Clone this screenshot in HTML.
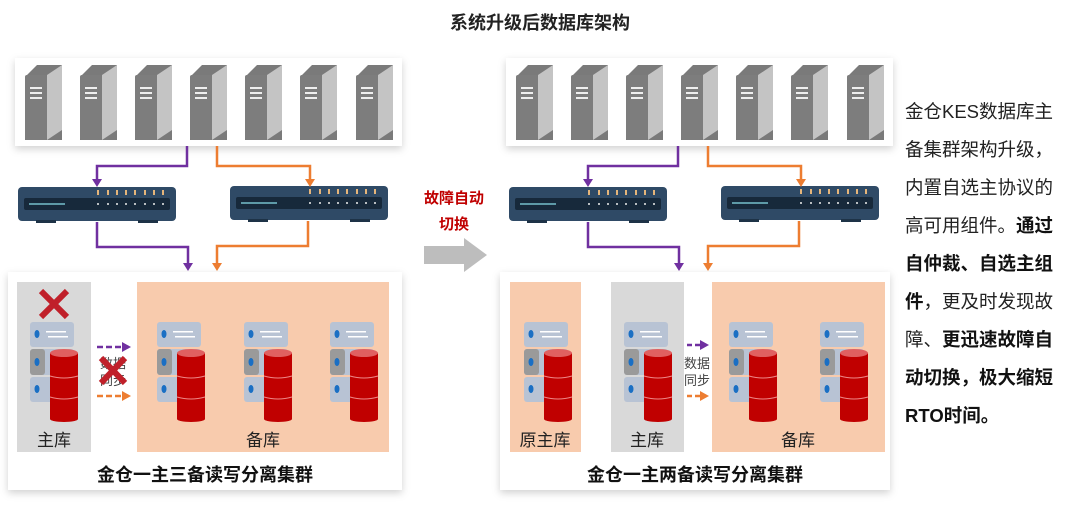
<!DOCTYPE html>
<html><head><meta charset="utf-8"><style>
html,body{margin:0;padding:0;background:#fff;}
svg text{font-family:"Liberation Sans","Noto Sans CJK SC",sans-serif;}
</style></head><body>
<svg width="1080" height="526" viewBox="0 0 1080 526" xmlns="http://www.w3.org/2000/svg">
<defs>
<filter id="sh" x="-10%" y="-10%" width="120%" height="130%"><feDropShadow dx="0" dy="3" stdDeviation="4" flood-color="#000" flood-opacity="0.18"/></filter>
<g id="srv">
<path d="M0 12 L12 0 L37 0 L37 75 L0 75 Z" fill="#7a7a7a"/>
<path d="M22 10 L37 0 L37 65 L22 75 Z" fill="#c4c4c4"/>
<rect x="0" y="10" width="22" height="65" rx="2" fill="#7d7d7d"/>
<rect x="5" y="22" width="12" height="2" fill="#eee"/><rect x="5" y="27" width="12" height="2" fill="#eee"/><rect x="5" y="32" width="12" height="2" fill="#eee"/>
</g>
<g id="sw">
<rect x="0" y="0" width="158" height="34" rx="4" fill="#2f4a66"/>
<rect x="6" y="11" width="146" height="12" rx="2" fill="#17293b"/>
<rect x="11" y="16" width="36" height="2" fill="#5e9aa8"/>
<g fill="#eee"><circle cx="80" cy="17" r="1"/><circle cx="90" cy="17" r="1"/><circle cx="99" cy="17" r="1"/><circle cx="108" cy="17" r="1"/><circle cx="117" cy="17" r="1"/><circle cx="127" cy="17" r="1"/><circle cx="136" cy="17" r="1"/><circle cx="145" cy="17" r="1"/></g>
<g fill="#e6b57a"><rect x="79" y="3" width="2" height="5"/><rect x="89" y="3" width="2" height="5"/><rect x="98" y="3" width="2" height="5"/><rect x="107" y="3" width="2" height="5"/><rect x="116" y="3" width="2" height="5"/><rect x="126" y="3" width="2" height="5"/><rect x="135" y="3" width="2" height="5"/><rect x="144" y="3" width="2" height="5"/></g>
<rect x="18" y="33" width="20" height="3" fill="#1e3347"/><rect x="120" y="33" width="20" height="3" fill="#1e3347"/>
</g>
<g id="db">
<rect x="0" y="0" width="44" height="25" rx="3" fill="#b8c3d4"/>
<rect x="0" y="27" width="44" height="26" rx="3" fill="#b8c3d4"/>
<rect x="0" y="27" width="15" height="26" rx="3" fill="#9a9a9a"/>
<rect x="0" y="55" width="44" height="25" rx="3" fill="#b8c3d4"/>
<ellipse cx="7" cy="12" rx="2.5" ry="4" fill="#1a6fc4"/><ellipse cx="7" cy="40" rx="2.5" ry="4" fill="#1a6fc4"/><ellipse cx="7" cy="67" rx="2.5" ry="4" fill="#1a6fc4"/>
<rect x="16" y="9" width="20" height="1.5" fill="#fff"/><rect x="18" y="14" width="20" height="1.5" fill="#fff"/>
<rect x="20" y="31" width="28" height="66" fill="#c00000"/>
<ellipse cx="34" cy="31" rx="14" ry="4" fill="#e06060"/>
<ellipse cx="34" cy="97" rx="14" ry="3" fill="#c00000"/>
<path d="M20 54 Q34 58 48 54" stroke="#e88" stroke-width="1" fill="none"/>
<path d="M20 75 Q34 79 48 75" stroke="#e88" stroke-width="1" fill="none"/>
</g>
<g id="top">
<rect x="15" y="58" width="387" height="88" fill="#fff" filter="url(#sh)"/>
<use href="#srv" x="25" y="65"/><use href="#srv" x="80" y="65"/><use href="#srv" x="135" y="65"/><use href="#srv" x="190" y="65"/><use href="#srv" x="245" y="65"/><use href="#srv" x="300" y="65"/><use href="#srv" x="356" y="65"/>
<use href="#sw" x="18" y="187"/><use href="#sw" x="230" y="186"/>
<g fill="none" stroke-width="2.5">
<path d="M187 146 V166 H97 V180" stroke="#7030a0"/>
<path d="M217 146 V166 H310 V180" stroke="#ed7d31"/>
<path d="M97 222 V247 H188 V264" stroke="#7030a0"/>
<path d="M308 221 V246 H217 V264" stroke="#ed7d31"/>
</g>
<path d="M92 179 L102 179 L97 187 Z" fill="#7030a0"/>
<path d="M305 179 L315 179 L310 187 Z" fill="#ed7d31"/>
<path d="M183 263 L193 263 L188 271 Z" fill="#7030a0"/>
<path d="M212 263 L222 263 L217 271 Z" fill="#ed7d31"/>
</g>
</defs>

<text x="540" y="29" text-anchor="middle" font-size="18" font-weight="bold" fill="#222">系统升级后数据库架构</text>

<use href="#top"/>
<use href="#top" x="491"/>

<!-- left bottom -->
<rect x="8" y="272" width="394" height="218" fill="#fff" filter="url(#sh)"/>
<rect x="17" y="282" width="74" height="170" fill="#d9d9d9"/>
<rect x="137" y="282" width="252" height="170" fill="#f8cbad"/>
<path d="M41 291 L67 317 M67 291 L41 317" stroke="#c0202a" stroke-width="6"/>
<use href="#db" x="30" y="322"/>
<use href="#db" x="157" y="322"/>
<use href="#db" x="244" y="322"/>
<use href="#db" x="330" y="322"/>
<text x="54" y="446" text-anchor="middle" font-size="17" fill="#222">主库</text>
<text x="263" y="446" text-anchor="middle" font-size="17" fill="#222">备库</text>
<path d="M97 347 H122" stroke="#7030a0" stroke-width="2.5" stroke-dasharray="6,3"/><path d="M122 342 L131 347 L122 352 Z" fill="#7030a0"/>
<path d="M97 396 H122" stroke="#ed7d31" stroke-width="2.5" stroke-dasharray="6,3"/><path d="M122 391 L131 396 L122 401 Z" fill="#ed7d31"/>
<text x="113" y="368" text-anchor="middle" font-size="13" fill="#444">数据</text>
<text x="113" y="385" text-anchor="middle" font-size="13" fill="#444">同步</text>
<path d="M101 358 L125 383 M125 358 L101 383" stroke="#c0202a" stroke-width="6"/>
<text x="205" y="481" text-anchor="middle" font-size="18" font-weight="bold" fill="#111">金仓一主三备读写分离集群</text>

<!-- middle -->
<text x="454" y="203" text-anchor="middle" font-size="15" font-weight="bold" fill="#c00000">故障自动</text>
<text x="454" y="229" text-anchor="middle" font-size="15" font-weight="bold" fill="#c00000">切换</text>
<rect x="424" y="246" width="40" height="18" fill="#bdbdbd"/>
<path d="M464 238 L487 255 L464 272 Z" fill="#bdbdbd"/>

<!-- right bottom -->
<rect x="500" y="272" width="390" height="218" fill="#fff" filter="url(#sh)"/>
<rect x="510" y="282" width="71" height="170" fill="#f8cbad"/>
<rect x="611" y="282" width="73" height="170" fill="#d9d9d9"/>
<rect x="712" y="282" width="173" height="170" fill="#f8cbad"/>
<use href="#db" x="524" y="322"/>
<use href="#db" x="624" y="322"/>
<use href="#db" x="729" y="322"/>
<use href="#db" x="820" y="322"/>
<text x="545" y="446" text-anchor="middle" font-size="17" fill="#222">原主库</text>
<text x="647" y="446" text-anchor="middle" font-size="17" fill="#222">主库</text>
<text x="798" y="446" text-anchor="middle" font-size="17" fill="#222">备库</text>
<path d="M687 345 H700" stroke="#7030a0" stroke-width="2.5" stroke-dasharray="5,3"/><path d="M700 340 L709 345 L700 350 Z" fill="#7030a0"/>
<path d="M687 396 H700" stroke="#ed7d31" stroke-width="2.5" stroke-dasharray="5,3"/><path d="M700 391 L709 396 L700 401 Z" fill="#ed7d31"/>
<text x="697" y="368" text-anchor="middle" font-size="13" fill="#444">数据</text>
<text x="697" y="385" text-anchor="middle" font-size="13" fill="#444">同步</text>
<text x="695" y="481" text-anchor="middle" font-size="18" font-weight="bold" fill="#111">金仓一主两备读写分离集群</text>

<!-- right text -->
<g font-size="18.5" fill="#222">
<text x="905" y="118">金仓KES数据库主</text>
<text x="905" y="156">备集群架构升级，</text>
<text x="905" y="194">内置自选主协议的</text>
<text x="905" y="232">高可用组件。<tspan font-weight="bold" fill="#111">通过</tspan></text>
<text x="905" y="270" font-weight="bold" fill="#111">自仲裁、自选主组</text>
<text x="905" y="308"><tspan font-weight="bold" fill="#111">件</tspan>，更及时发现故</text>
<text x="905" y="346">障、<tspan font-weight="bold" fill="#111">更迅速故障自</tspan></text>
<text x="905" y="384" font-weight="bold" fill="#111">动切换，极大缩短</text>
<text x="905" y="422" font-weight="bold" fill="#111">RTO时间。</text>
</g>
</svg>
</body></html>
